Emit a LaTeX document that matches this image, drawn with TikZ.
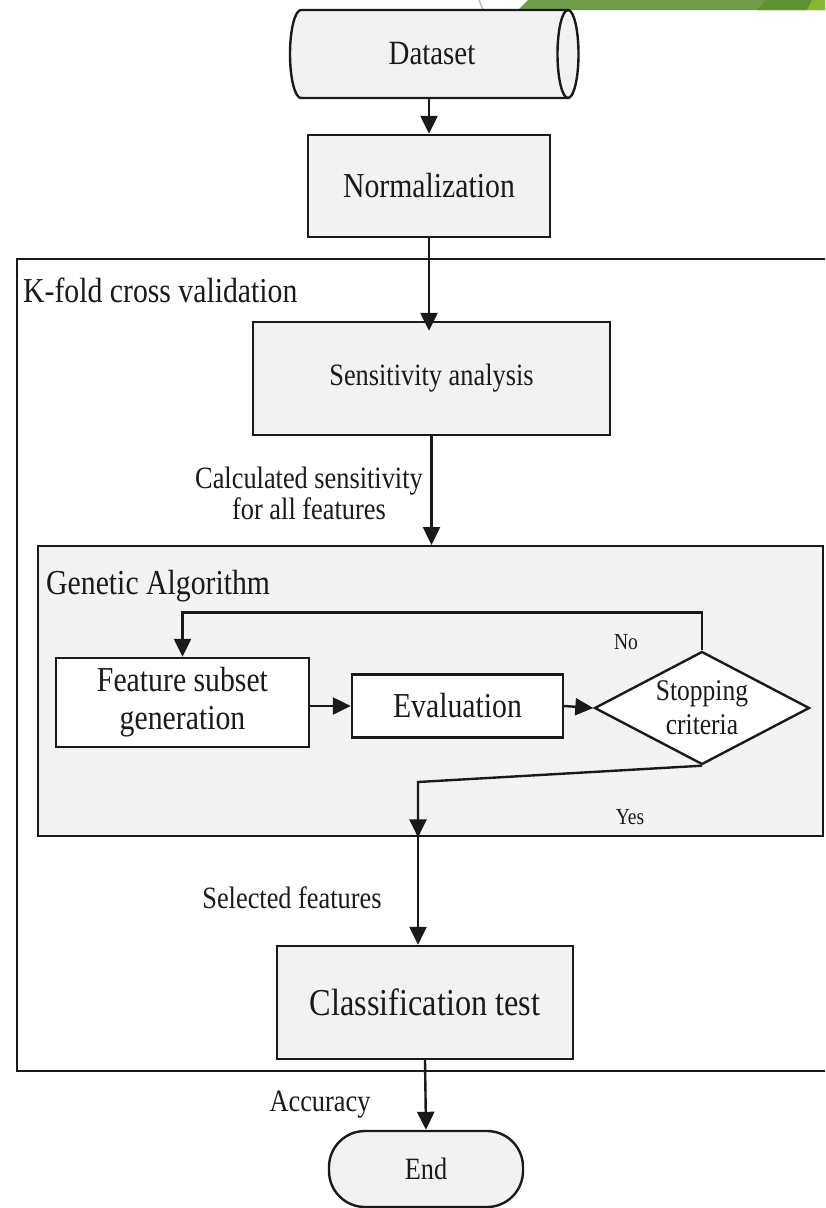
\documentclass[tikz,border=0pt]{standalone}
\usepackage{fontspec}
\setmainfont[FakeStretch=0.85]{Liberation Serif}
\usetikzlibrary{arrows.meta,shapes.geometric}

\definecolor{ink}{HTML}{1A1A1A}
\definecolor{boxfill}{HTML}{F2F2F2}
\definecolor{gafill}{HTML}{F3F3F3}
\definecolor{banner}{HTML}{6F9C4B}
\definecolor{bannerdark}{HTML}{5F9136}
\definecolor{bannerlight}{HTML}{86B833}

\begin{document}
\begin{tikzpicture}[x=1pt,y=-1pt,
  line/.style={line width=2.4pt, draw=ink},
  flow/.style={line, -{Triangle[length=18pt,width=17pt]}},
  procbox/.style={rectangle, line, fill=boxfill, inner sep=0pt, align=center, text=ink},
  innerbox/.style={rectangle, line, fill=white, inner sep=0pt, align=center, text=ink},
  frame/.style={rectangle, line, inner sep=0pt, anchor=north west},
  plain/.style={inner sep=0pt, align=center, text=ink},
  big/.style={font=\fontsize{35}{38}\selectfont},
  mid/.style={font=\fontsize{31}{34}\selectfont},
  small/.style={font=\fontsize{23}{25}\selectfont},
]
\useasboundingbox (0,0) rectangle (825,1208);
\clip (0,0) rectangle (825,1208);
\fill[white] (0,0) rectangle (825,1208);

% corner banner
\fill[banner] (528,0) -- (825,0) -- (825,10) -- (518,10) -- cycle;
\fill[bannerdark] (766,0) -- (812,0) -- (807,10) -- (757,10) -- cycle;
\fill[bannerlight] (812,0) -- (825,0) -- (825,10) -- (807,10) -- cycle;
\draw[black!25, line width=1.5pt] (479,0) -- (484,12);

% outer container
\node[frame, fill=white, minimum width=900, minimum height=812] (kfold) at (16,258) {};
\node[plain, big, anchor=base west] (kfoldlabel) at (23,302) {K-fold cross validation};

% inner container
\node[frame, fill=gafill, minimum width=785, minimum height=290] (ga) at (37,545) {};
\node[plain, big, anchor=base west] (galabel) at (46,594) {Genetic Algorithm};

% data source drawn as a horizontal cylinder
\path[line, fill=boxfill] (301,10) -- (568,10)
  arc[start angle=-90, end angle=90, x radius=10.5, y radius=44]
  -- (301,98)
  arc[start angle=90, end angle=270, x radius=11, y radius=44] -- cycle;
\draw[line] (568,10) arc[start angle=-90, end angle=-270, x radius=10.5, y radius=44];
\node[plain, font=\fontsize{34}{37}\selectfont, minimum height=88] (dataset) at (432,54) {Dataset};

% main steps
\node[procbox, big, minimum width=242, minimum height=102] (norm) at (429,186) {Normalization};
\node[procbox, mid, minimum width=357, minimum height=113] (sens) at (431.5,378.5) {Sensitivity analysis};
\node[innerbox, big, minimum width=253, minimum height=89] (fsg) at (182.5,702.5) {Feature subset\\generation};
\node[innerbox, big, minimum width=211, minimum height=63] (eval) at (457.5,706) {Evaluation};
\node[diamond, line, fill=white, inner sep=0pt, align=center, text=ink,
      font=\fontsize{30}{34}\selectfont, aspect=1.9,
      minimum width=215, minimum height=113] (stop) at (702,708) {Stopping\\criteria};
\node[procbox, font=\fontsize{38}{42}\selectfont, minimum width=296, minimum height=113] (class) at (425,1002.5) {Classification test};
\node[procbox, mid, rounded corners=36, minimum width=194, minimum height=76] (endnode) at (426,1169) {End};

% edge labels
\node[plain, font=\fontsize{31}{31}\selectfont] (calclabel) at (309,493) {Calculated sensitivity\\for all features};
\node[plain, small] (nolabel) at (626,642) {No};
\node[plain, small] (yeslabel) at (630,817) {Yes};
\node[plain, mid] (sellabel) at (292,898) {Selected features};
\node[plain, mid] (acclabel) at (320,1105) {Accuracy};

% connectors
\draw[flow] (norm.north |- dataset.south) -- (norm.north);
\draw[flow, shorten >=-10pt] (norm.south) -- (norm.south |- sens.north);
\draw[flow] (sens.south) -- (sens.south |- ga.north);
\draw[flow] (stop.north) -- ++(0,-38) -| (fsg.north);
\draw[flow] (fsg.east |- eval.west) -- (eval.west);
\draw[flow] (eval.east) -- (stop.west);
\coordinate (yesbend) at (418,782);
\coordinate (gaexit) at (yesbend |- ga.south);
\draw[flow] (stop.south) -- (yesbend) -- (gaexit);
\draw[flow] (gaexit) -- (gaexit |- class.north);
\draw[flow] (class.south) -- (endnode.north);
\end{tikzpicture}
\end{document}
